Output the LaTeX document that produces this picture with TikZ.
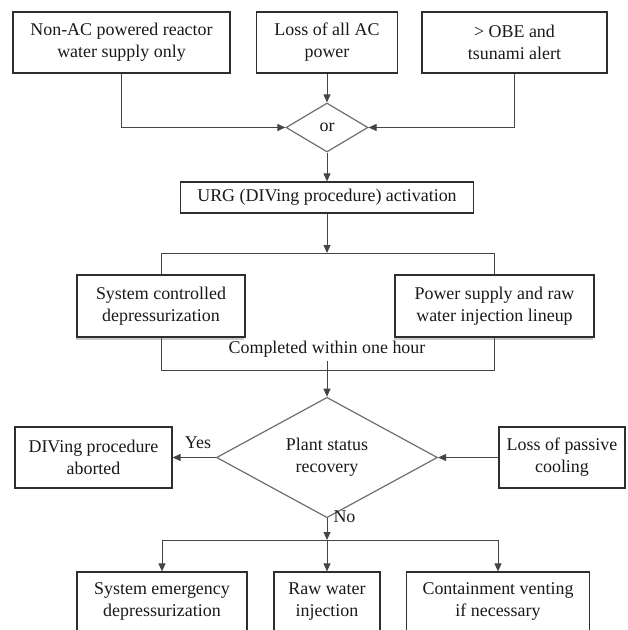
\documentclass[tikz,border=0pt]{standalone}
\usepackage{fontspec}
\setmainfont{Liberation Serif}
\usetikzlibrary{shapes.geometric,arrows.meta,shadows}
\definecolor{boxline}{HTML}{2E2E2E}
\definecolor{connc}{HTML}{454545}
\definecolor{dline}{HTML}{6E6E6E}
\begin{document}
\begin{tikzpicture}[x=1bp,y=-1bp,
  every node/.style={font=\fontsize{18}{22}\selectfont, text=black!90},
  box/.style={draw=boxline, line width=1.2bp, fill=white, align=center, inner sep=0pt, anchor=center},
  dia/.style={diamond, draw=dline, line width=1.2bp, fill=white, align=center, inner sep=0pt},
  conn/.style={draw=connc, line width=1bp},
  arr/.style={conn, -{Triangle[length=8bp,width=7bp]}},
  shbox/.style={box, drop shadow={shadow xshift=-1.5bp, shadow yshift=-2.5bp, opacity=0.35, fill=black!60}},
]
\useasboundingbox (0,0) rectangle (628,630);
\clip (0,0) rectangle (628,630);

% top row
\node[box, minimum width=217bp, minimum height=61bp] (b1) at (121.5,42.5) {Non-AC powered reactor\\water supply only};
\node[box, minimum width=141bp, minimum height=61bp] (b2) at (327,42.5) {Loss of all AC\\power};
\node[box, minimum width=185bp, minimum height=61bp] (b3) at (514.5,42.5) {> OBE and\\tsunami alert};
\node[dia, minimum width=82bp, minimum height=49bp] (or) at (327,127.5) {or};

\draw[arr] (b1.south) |- (or.west);
\draw[arr] (b2.south) -- (or.north);
\draw[arr] (b3.south) |- (or.east);

\node[box, minimum width=293bp, minimum height=31bp] (urg) at (327,197.5) {URG (DIVing procedure) activation};
\draw[arr] (or.south) -- (urg.north);

% bracket
\coordinate (bt) at (327,253);
\coordinate (bb) at (327,361);
\draw[conn] (161,253) rectangle (494,370);
\draw[arr] (urg.south) -- (bt);

\node[shbox, minimum width=168bp, minimum height=62bp] (m1) at (161,306) {System controlled\\depressurization};
\node[shbox, minimum width=199bp, minimum height=62bp] (m2) at (494.5,306) {Power supply and raw\\water injection lineup};
\node (done) at (327,349) {Completed within one hour};

% decision
\node[dia, minimum width=221bp, minimum height=97bp] (plant) at (327,457.5) {Plant status\\recovery};
\draw[arr] (bb) -- (plant.north);

\node[box, minimum width=157bp, minimum height=61bp] (ab) at (93.5,457.5) {DIVing procedure\\aborted};
\node[box, minimum width=126bp, minimum height=61bp] (lp) at (562,457.5) {Loss of passive\\cooling};
\draw[arr] (plant.west) -- (ab.east);
\draw[arr] (lp.west) -- (plant.east);
\node (yes) at (198,443) {Yes};

% outcomes
\node[box, minimum width=170bp, minimum height=59bp] (s1) at (162,601.5) {System emergency\\depressurization};
\node[box, minimum width=106bp, minimum height=59bp] (s2) at (327,601.5) {Raw water\\injection};
\node[box, minimum width=183bp, minimum height=59bp] (s3) at (498,601.5) {Containment venting\\if necessary};

\coordinate (br) at (327,540);
\draw[arr] (plant.south) -- (br);
\node[anchor=west] (no) at (330,517) {No};
\draw[conn] (s1.north |- br) -- (s3.north |- br);
\draw[arr] (s1.north |- br) -- (s1.north);
\draw[arr] (br) -- (s2.north);
\draw[arr] (s3.north |- br) -- (s3.north);
\end{tikzpicture}
\end{document}
